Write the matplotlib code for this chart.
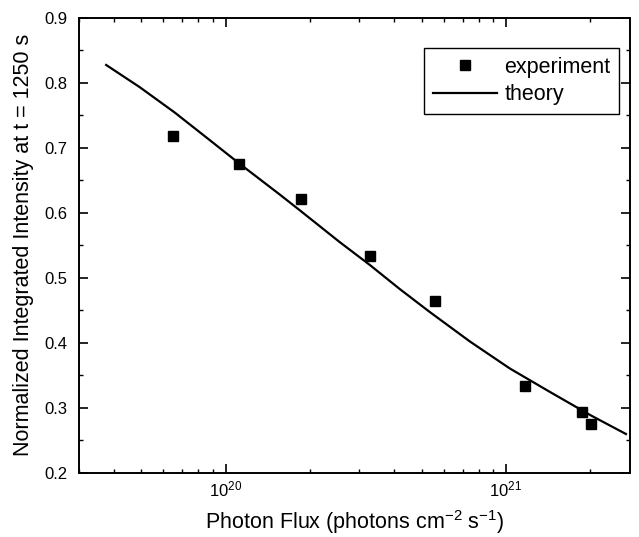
import matplotlib
matplotlib.use("Agg")
import matplotlib.pyplot as plt
from matplotlib.ticker import MultipleLocator, LogLocator, NullFormatter

plt.rcParams['font.family'] = ['Liberation Sans', 'DejaVu Sans']
plt.rcParams['mathtext.fontset'] = 'custom'
plt.rcParams['mathtext.rm'] = 'Liberation Sans'
plt.rcParams['mathtext.it'] = 'Liberation Sans:italic'

# experiment data
exp_flux = [6.48e19, 1.116e20, 1.853e20, 3.27e20, 5.57e20, 1.166e21, 1.866e21, 2.01e21]
exp_int = [0.719, 0.676, 0.621, 0.534, 0.465, 0.3335, 0.294, 0.2745]

# theory curve
th_flux = [3.75e19, 4.93e19, 6.58e19, 8.77e19, 1.113e20, 1.56e20, 1.853e20, 2.55e20,
           3.27e20, 4.18e20, 5.35e20, 7.44e20, 1.033e21, 1.436e21, 1.995e21, 2.68e21]
th_int = [0.8277, 0.7938, 0.7546, 0.7122, 0.6768, 0.6283, 0.6029, 0.5552,
          0.5198, 0.4828, 0.4474, 0.4020, 0.3604, 0.3243, 0.2889, 0.2596]

fig = plt.figure(figsize=(6.39, 5.37), dpi=100)
ax = fig.add_axes([0.1236, 0.1197, 0.8623, 0.8468])

ax.plot(exp_flux, exp_int, linestyle='none', marker='s', markersize=6.5,
        color='black', label='experiment')
ax.plot(th_flux, th_int, '-', color='black', linewidth=1.6, label='theory')

ax.set_xscale('log')
ax.set_xlim(3e19, 2.77e21)
ax.set_ylim(0.2, 0.9)
ax.yaxis.set_major_locator(MultipleLocator(0.1))
ax.yaxis.set_minor_locator(MultipleLocator(0.05))
ax.xaxis.set_major_locator(LogLocator(base=10))
ax.xaxis.set_minor_locator(LogLocator(base=10, subs=[2, 3, 4, 5, 6, 7, 8, 9]))
ax.xaxis.set_minor_formatter(NullFormatter())

for s in ax.spines.values():
    s.set_linewidth(1.4)
ax.tick_params(which='both', direction='in', top=True, right=True)
ax.tick_params(which='major', length=6.5, width=1.2)
ax.tick_params(which='minor', length=3.2, width=1.0)
ax.tick_params(axis='y', which='major', labelsize=12, pad=8)
ax.tick_params(axis='x', which='major', labelsize=12, pad=5)

ax.set_xlabel('Photon Flux (photons cm$^{-2}$ s$^{-1}$)', fontsize=15.5, labelpad=6)
ax.set_ylabel('Normalized Integrated Intensity at t = 1250 s', fontsize=15.5, labelpad=8)

leg = ax.legend(loc='upper right', bbox_to_anchor=(0.980, 0.9334), borderaxespad=0,
                fontsize=15.5, fancybox=False, framealpha=1, edgecolor='black',
                handlelength=3.0, handletextpad=0.33, borderpad=0.4, labelspacing=0.3)
leg.get_frame().set_linewidth(1.0)

fig.savefig('out.png', dpi=100)
